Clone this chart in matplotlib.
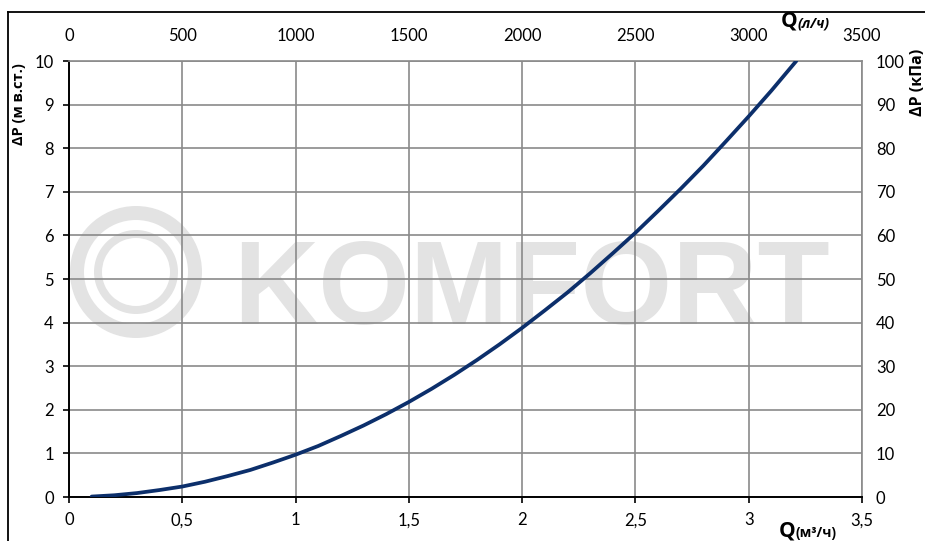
import numpy as np
import matplotlib
matplotlib.use("Agg")
import matplotlib.pyplot as plt
from matplotlib.patches import Wedge
from matplotlib.lines import Line2D

plt.rcParams['font.family'] = ['Lato', 'DejaVu Sans']

# flow (m3/h) vs pressure drop (m w.c.)
q_m3h = [0.1, 0.2, 0.3, 0.4, 0.5, 0.6, 0.7, 0.8, 0.9, 1.0, 1.1, 1.2, 1.3, 1.4,
         1.5, 1.6, 1.7, 1.8, 1.9, 2.0, 2.1, 2.2, 2.3, 2.4, 2.5, 2.6, 2.7,
         2.8, 2.9, 3.0, 3.1, 3.21]
dp_m = [0.01, 0.04, 0.09, 0.16, 0.24, 0.35, 0.48, 0.62, 0.79, 0.97, 1.17,
        1.40, 1.64, 1.90, 2.18, 2.48, 2.80, 3.14, 3.50, 3.88, 4.28, 4.69,
        5.13, 5.59, 6.06, 6.56, 7.07, 7.60, 8.16, 8.73, 9.32, 10.0]

x_ticks = [0, 0.5, 1, 1.5, 2, 2.5, 3, 3.5]
x_labels = ['0', '0,5', '1', '1,5', '2', '2,5', '3', '3,5']
top_ticks = [0, 500, 1000, 1500, 2000, 2500, 3000, 3500]
y_ticks = list(range(0, 11))
right_ticks = list(range(0, 101, 10))

W, H = 925, 541
fig = plt.figure(figsize=(W / 100, H / 100), dpi=100)
ax = fig.add_axes([69 / W, 1 - 497 / H, (862 - 69) / W, (497 - 61) / H])

grid_c = '#8a8a8a'
line_c = '#0c2f6b'
wm_c = '#e3e3e3'

# watermark logo, below grid
ax_w = fig.add_axes([0, 0, 1, 1], zorder=-1)
ax_w.set_xlim(0, W)
ax_w.set_ylim(H, 0)
ax_w.axis('off')
cx, cy = 136, 272
ax_w.add_patch(Wedge((cx, cy), 66, 0, 360, width=14, color=wm_c, lw=0))
ax_w.add_patch(Wedge((cx, cy), 42, 0, 360, width=8, color=wm_c, lw=0))
ax_w.text(233, 324, 'KOMFORT', family='Liberation Sans', weight='bold',
          fontsize=85, color=wm_c, ha='left', va='baseline')
ax.patch.set_alpha(0)

ax.plot(q_m3h, dp_m, color=line_c, lw=2.7, solid_capstyle='round',
        solid_joinstyle='round', zorder=3)

ax.set_xlim(0, 3.5)
ax.set_ylim(0, 10)
ax.set_xticks(x_ticks)
ax.set_xticklabels(x_labels)
ax.set_yticks(y_ticks)
ax.grid(True, color=grid_c, lw=1.2)
ax.set_axisbelow(True)
ax.tick_params(axis='both', labelsize=12, length=4, width=1.2, color='black')
ax.tick_params(axis='x', pad=7)
ax.tick_params(axis='y', pad=7)
for s in ['left', 'bottom']:
    ax.spines[s].set_color('black')
    ax.spines[s].set_linewidth(1.4)
for s in ['top', 'right']:
    ax.spines[s].set_color(grid_c)
    ax.spines[s].set_linewidth(1.2)

top = ax.secondary_xaxis('top', functions=(lambda x: x * 1000, lambda x: x / 1000))
top.set_xticks(top_ticks)
top.tick_params(length=0, labelsize=12, pad=12)
top.spines['top'].set_visible(False)

right = ax.secondary_yaxis('right', functions=(lambda y: y * 10, lambda y: y / 10))
right.set_yticks(right_ticks)
right.tick_params(length=0, labelsize=12, pad=10)
right.spines['right'].set_visible(False)

lab = ['Open Sans', 'DejaVu Sans']
fig.text(19 / W, 1 - 104 / H, 'ΔP (м в.ст.)', rotation=90, ha='center', va='center',
         fontsize=10.5, weight='bold', family=lab)
fig.text(918 / W, 1 - 82 / H, 'ΔP (кПа)', rotation=90, ha='center', va='center',
         fontsize=11.5, weight='bold', family=lab)
fig.text(797 / W, 1 - 27 / H, 'Q', ha='right', va='baseline', fontsize=15,
         weight='bold', family=lab)
fig.text(797 / W, 1 - 27 / H, '(л/ч)', ha='left', va='baseline', fontsize=10,
         weight='bold', style='italic', family=lab)
fig.text(795 / W, 1 - 537 / H, 'Q', ha='right', va='baseline', fontsize=15,
         weight='bold', family=lab)
fig.text(795 / W, 1 - 537 / H, '(м³/ч)', ha='left', va='baseline', fontsize=10,
         weight='bold', family=lab)

# outer frame (only left and top edges show in the picture)
fig.add_artist(Line2D([8 / W, 8 / W], [0, 1 - 12 / H], color='black', lw=1.3))
fig.add_artist(Line2D([8 / W, 1], [1 - 12 / H, 1 - 12 / H], color='black', lw=1.3))

fig.savefig('out.png', dpi=100)
